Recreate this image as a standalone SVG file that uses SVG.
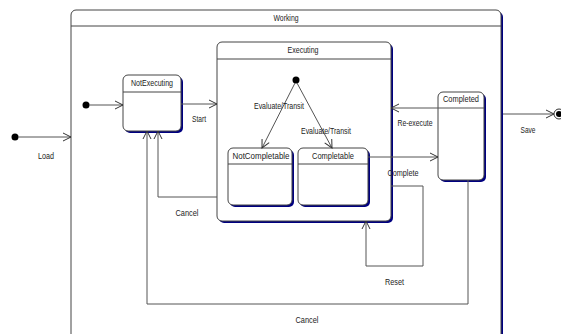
<svg xmlns="http://www.w3.org/2000/svg" width="561" height="334" viewBox="0 0 561 334">
<defs>
<marker id="arr" markerUnits="userSpaceOnUse" markerWidth="12" markerHeight="12" refX="9" refY="5" orient="auto">
<path d="M1,1 L9,5 L1,9" fill="none" stroke="#333" stroke-width="1"/>
</marker>
</defs>
<style>
text{font-family:"Liberation Sans",Arial,sans-serif;font-size:9.5px;fill:#222}
.box{fill:#fff;stroke:#444;stroke-width:1}
.sh{fill:#000080}
.hd{stroke:#444;stroke-width:1}
.c{fill:none;stroke:#555;stroke-width:1}
.dot{fill:#000}
</style>
<rect width="561" height="334" fill="#fff"/>
<g id="Working">
<rect class="sh" x="73" y="12" width="430" height="340" rx="5"/>
<rect class="box" x="71" y="10" width="430" height="340" rx="5"/>
<line class="hd" x1="71" y1="26" x2="501" y2="26"/>
<text x="286" y="21" text-anchor="middle" textLength="25" lengthAdjust="spacingAndGlyphs">Working</text>
</g>
<g id="Executing">
<rect class="sh" x="219" y="44" width="174" height="179" rx="5"/>
<rect class="box" x="217" y="42" width="174" height="179" rx="5"/>
<line class="hd" x1="217" y1="59" x2="391" y2="59"/>
<text x="303" y="53" text-anchor="middle" textLength="31" lengthAdjust="spacingAndGlyphs">Executing</text>
</g>
<g id="NotExecuting">
<rect class="sh" x="125" y="77" width="58" height="56" rx="5"/>
<rect class="box" x="123" y="75" width="58" height="56" rx="5"/>
<line class="hd" x1="123" y1="92" x2="181" y2="92"/>
<text x="152" y="86" text-anchor="middle" textLength="42" lengthAdjust="spacingAndGlyphs">NotExecuting</text>
</g>
<g id="NotCompletable">
<rect class="sh" x="230" y="150" width="64" height="57" rx="5"/>
<rect class="box" x="228" y="148" width="64" height="57" rx="5"/>
<line class="hd" x1="228" y1="164" x2="292" y2="164"/>
<text x="261" y="159" text-anchor="middle" textLength="57" lengthAdjust="spacingAndGlyphs">NotCompletable</text>
</g>
<g id="Completable">
<rect class="sh" x="300" y="150" width="70" height="57" rx="5"/>
<rect class="box" x="298" y="148" width="70" height="57" rx="5"/>
<line class="hd" x1="298" y1="164" x2="368" y2="164"/>
<text x="333" y="159" text-anchor="middle" textLength="42" lengthAdjust="spacingAndGlyphs">Completable</text>
</g>
<g id="Completed">
<rect class="sh" x="440" y="94" width="46" height="88" rx="5"/>
<rect class="box" x="438" y="92" width="46" height="88" rx="5"/>
<text x="461" y="102" text-anchor="middle" textLength="36" lengthAdjust="spacingAndGlyphs">Completed</text>
</g>
<g id="Initial1"><circle class="dot" cx="15" cy="137" r="3.5"/></g>
<g id="Initial2"><circle class="dot" cx="86" cy="105" r="3.5"/></g>
<g id="Initial3"><circle class="dot" cx="296" cy="80" r="3.5"/></g>
<g id="Final">
<circle cx="559" cy="114" r="5" fill="#fff" stroke="#333"/>
<circle class="dot" cx="559" cy="114" r="3"/>
</g>
<g id="connectors">
<line class="c" x1="18" y1="137" x2="71" y2="137" marker-end="url(#arr)"/>
<text x="46" y="159" text-anchor="middle" textLength="16" lengthAdjust="spacingAndGlyphs">Load</text>
<line class="c" x1="89" y1="105" x2="123" y2="105" marker-end="url(#arr)"/>
<line class="c" x1="181" y1="104" x2="217" y2="104" marker-end="url(#arr)"/>
<text x="199" y="122" text-anchor="middle" textLength="14" lengthAdjust="spacingAndGlyphs">Start</text>
<line class="c" x1="295" y1="83" x2="262" y2="148" marker-end="url(#arr)"/>
<text x="279" y="109" text-anchor="middle" textLength="50" lengthAdjust="spacingAndGlyphs">Evaluate/Transit</text>
<line class="c" x1="297" y1="83" x2="332" y2="148" marker-end="url(#arr)"/>
<text x="326" y="134" text-anchor="middle" textLength="50" lengthAdjust="spacingAndGlyphs">Evaluate/Transit</text>
<line class="c" x1="368" y1="157" x2="438" y2="157" marker-end="url(#arr)"/>
<text x="403" y="176" text-anchor="middle" textLength="31" lengthAdjust="spacingAndGlyphs">Complete</text>
<line class="c" x1="484" y1="108" x2="391" y2="108" marker-end="url(#arr)"/>
<text x="415" y="126" text-anchor="middle" textLength="35" lengthAdjust="spacingAndGlyphs">Re-execute</text>
<line class="c" x1="503" y1="114" x2="554" y2="114" marker-end="url(#arr)"/>
<text x="528" y="132.5" text-anchor="middle" textLength="15" lengthAdjust="spacingAndGlyphs">Save</text>
<polyline class="c" points="217,197 158,197 158,131" marker-end="url(#arr)"/>
<text x="187" y="216" text-anchor="middle" textLength="23" lengthAdjust="spacingAndGlyphs">Cancel</text>
<polyline class="c" points="468,180 468,304 147,304 147,131" marker-end="url(#arr)"/>
<text x="307" y="322.5" text-anchor="middle" textLength="23" lengthAdjust="spacingAndGlyphs">Cancel</text>
<polyline class="c" points="391,186 423,186 423,266 366,266 366,221" marker-end="url(#arr)"/>
<text x="394.5" y="285" text-anchor="middle" textLength="19" lengthAdjust="spacingAndGlyphs">Reset</text>
</g>
</svg>
